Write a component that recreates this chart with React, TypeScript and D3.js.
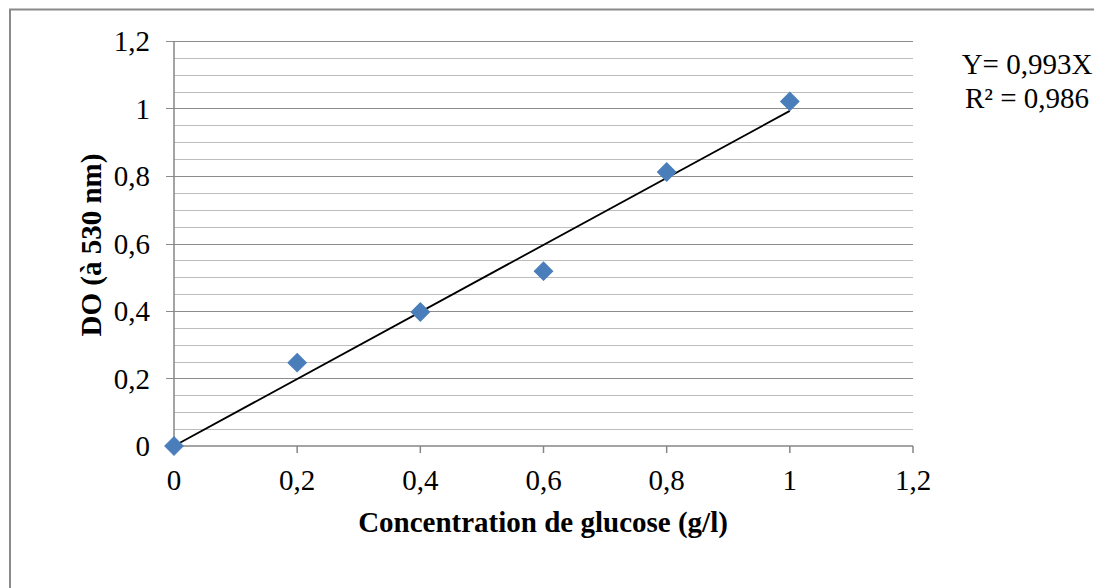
import { useEffect, useRef } from "react";
import * as d3 from "d3";

// glucose concentration (g/l) vs optical density at 530 nm
const concentrations = [0, 0.2, 0.4, 0.6, 0.8, 1];
const densities = [0, 0.247, 0.397, 0.518, 0.812, 1.021];
const slope = 0.993;
const equationLines = ["Y= 0,993X", "R² = 0,986"];
const majorTicks = [0, 0.2, 0.4, 0.6, 0.8, 1, 1.2];

const W = 1094;
const H = 588;
const FONT = "'Liberation Serif', 'Times New Roman', serif";
const fmt = (v: number) => d3.format(".1~f")(v).replace(".", ",");

const App = () => {
  const ref = useRef<SVGSVGElement | null>(null);

  useEffect(() => {
    if (!ref.current) return;
    const svg = d3.select(ref.current);
    svg.selectAll("*").remove();

    const x = d3.scaleLinear().domain([0, 1.2]).range([174, 913]);
    const y = d3.scaleLinear().domain([0, 1.2]).range([446, 41]);

    // outer frame (only top and left visible)
    svg
      .append("path")
      .attr("d", `M10,${H} L10,9.5 L${W},9.5`)
      .attr("fill", "none")
      .attr("stroke", "#8a8a8a")
      .attr("stroke-width", 2);

    // minor gridlines
    const minor = d3.range(0.05, 1.2001, 0.05).filter(v => Math.abs(v * 5 - Math.round(v * 5)) > 1e-6);
    svg
      .append("g")
      .selectAll("line")
      .data(minor)
      .enter()
      .append("line")
      .attr("x1", x(0))
      .attr("x2", x(1.2))
      .attr("y1", d => Math.round(y(d)) + 0.5)
      .attr("y2", d => Math.round(y(d)) + 0.5)
      .attr("stroke", "#bdbdbd")
      .attr("stroke-width", 1.2);

    // major gridlines
    svg
      .append("g")
      .selectAll("line")
      .data(majorTicks.filter(d => d > 0))
      .enter()
      .append("line")
      .attr("x1", x(0) - 8)
      .attr("x2", x(1.2))
      .attr("y1", d => Math.round(y(d)) + 0.5)
      .attr("y2", d => Math.round(y(d)) + 0.5)
      .attr("stroke", "#8c8c8c")
      .attr("stroke-width", 1.2);

    // axes lines
    const axisColor = "#868686";
    svg
      .append("line")
      .attr("x1", x(0))
      .attr("x2", x(0))
      .attr("y1", y(1.2))
      .attr("y2", y(0))
      .attr("stroke", axisColor)
      .attr("stroke-width", 1.5);
    svg
      .append("line")
      .attr("x1", x(0) - 8)
      .attr("x2", x(1.2))
      .attr("y1", y(0))
      .attr("y2", y(0))
      .attr("stroke", axisColor)
      .attr("stroke-width", 1.5);
    svg
      .append("g")
      .selectAll("line")
      .data(majorTicks)
      .enter()
      .append("line")
      .attr("x1", d => x(d))
      .attr("x2", d => x(d))
      .attr("y1", y(0))
      .attr("y2", y(0) + 7)
      .attr("stroke", axisColor)
      .attr("stroke-width", 1.5);

    // tick labels
    svg
      .append("g")
      .selectAll("text")
      .data(majorTicks)
      .enter()
      .append("text")
      .attr("x", 150)
      .attr("y", d => y(d) + 10)
      .attr("text-anchor", "end")
      .attr("font-family", FONT)
      .attr("font-size", 29)
      .attr("fill", "#000")
      .text(d => fmt(d));
    svg
      .append("g")
      .selectAll("text")
      .data(majorTicks)
      .enter()
      .append("text")
      .attr("x", d => x(d))
      .attr("y", 490)
      .attr("text-anchor", "middle")
      .attr("font-family", FONT)
      .attr("font-size", 29)
      .attr("fill", "#000")
      .text(d => fmt(d));

    // axis titles
    svg
      .append("text")
      .attr("x", 543)
      .attr("y", 532)
      .attr("text-anchor", "middle")
      .attr("font-family", FONT)
      .attr("font-weight", "bold")
      .attr("font-size", 29)
      .text("Concentration de glucose (g/l)");
    svg
      .append("text")
      .attr("transform", "translate(101,245) rotate(-90)")
      .attr("text-anchor", "middle")
      .attr("font-family", FONT)
      .attr("font-weight", "bold")
      .attr("font-size", 29)
      .text("DO (à 530 nm)");

    // trend line
    const line = d3
      .line<number>()
      .x(d => x(d))
      .y(d => y(slope * d));
    svg
      .append("path")
      .attr("d", line([0, 1]))
      .attr("stroke", "#000")
      .attr("stroke-width", 1.8)
      .attr("fill", "none");

    // markers
    const diamond = d3.symbol().type(d3.symbolSquare).size(170);
    svg
      .append("g")
      .selectAll("path")
      .data(concentrations)
      .enter()
      .append("path")
      .attr("d", diamond()!)
      .attr("transform", (d, i) => `translate(${x(d)},${y(densities[i])}) rotate(45)`)
      .attr("fill", "#4a7ebb")
      .attr("stroke", "#4a7ebb")
      .attr("stroke-width", 1);

    // equation
    svg
      .append("g")
      .selectAll("text")
      .data(equationLines)
      .enter()
      .append("text")
      .attr("x", 1027)
      .attr("y", (d, i) => 74 + i * 34)
      .attr("text-anchor", "middle")
      .attr("font-family", FONT)
      .attr("font-size", 29)
      .text(d => d);
  }, []);

  return (
    <svg
      ref={ref}
      width={W}
      height={H}
      viewBox={`0 0 ${W} ${H}`}
      style={{ position: "absolute", left: 0, top: 0, background: "#fff" }}
    />
  );
};

export default App;
